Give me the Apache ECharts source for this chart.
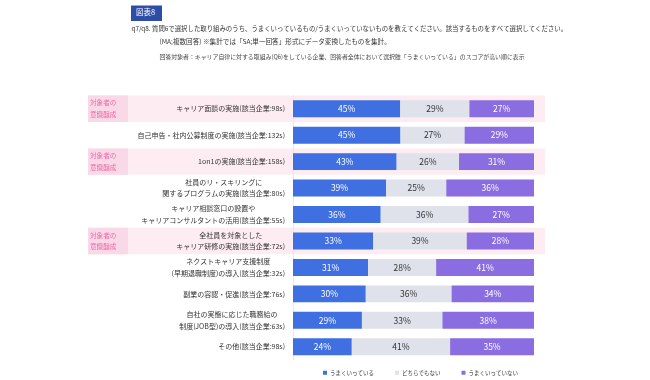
<!DOCTYPE html>
<html><head><meta charset="utf-8">
<script src="https://cdn.jsdelivr.net/npm/echarts@6/dist/echarts.min.js"></script>
<style>html,body{margin:0;padding:0;background:#fff}#c{width:650px;height:380px}</style>
</head><body><div id="c"></div>
<script>
const categories = [
  'キャリア面談の実施(該当企業:98s)',
  '自己申告・社内公募制度の実施(該当企業:132s)',
  '1on1の実施(該当企業:158s)',
  '社員のリ・スキリングに\n関するプログラムの実施(該当企業:80s)',
  'キャリア相談窓口の設置や\nキャリアコンサルタントの活用(該当企業:55s)',
  '全社員を対象とした\nキャリア研修の実施(該当企業:72s)',
  'ネクストキャリア支援制度\n(早期退職制度)の導入(該当企業:32s)',
  '副業の容認・促進(該当企業:76s)',
  '自社の実態に応じた職務給の\n制度(JOB型)の導入(該当企業:63s)',
  'その他(該当企業:98s)'
];
const seriesNames = ['うまくいっている', 'どちらでもない', 'うまくいっていない'];
const goodValues    = [44.5, 44.6, 43.0, 38.6, 36.4, 33.3, 31.2, 30.2, 28.6, 24.4];
const neutralValues = [28.7, 26.6, 25.9, 25.0, 36.4, 38.8, 28.2, 35.6, 33.4, 40.8];
const badValues     = [26.8, 28.8, 31.1, 36.4, 27.2, 27.9, 40.6, 34.2, 38.0, 34.8];
const flaggedRows = [0, 2, 5];
const flagText = '対象者の\n意識醸成';
const titleBadge = '図表8';
const titleLine1 = 'q7/q8. 質問6で選択した取り組みのうち、うまくいっているもの/うまくいっていないものを教えてください。該当するものをすべて選択してください。';
const titleLine2 = '(MA;複数回答) ※集計では「SA;単一回答」形式にデータ変換したものを集計。';
const titleLine3 = '回答対象者：キャリア自律に対する取組み(Q6)をしている企業、回答者全体において選択肢「うまくいっている」のスコアが高い順に表示';

const FONT = '"Noto Sans CJK JP", "Noto Sans", sans-serif';
const colors = ['#3f6fe0', '#dfe2ea', '#8a6de0'];
const labelColors = ['#ffffff', '#333333', '#ffffff'];
const chart = echarts.init(document.getElementById('c'), null, {renderer: 'canvas'});

function barSeries(idx, data) {
  return {
    name: seriesNames[idx], type: 'bar', stack: 'all', data: data,
    barWidth: '64%', z: 3,
    itemStyle: {color: colors[idx]},
    label: {show: true, position: 'inside', color: labelColors[idx], fontSize: 8.5, fontFamily: FONT,
      formatter: p => Math.round(p.value) + '%'}
  };
}

chart.setOption({
  animation: false,
  textStyle: {fontFamily: FONT},
  grid: {left: 293, right: 116, top: 95.5, bottom: 20, containLabel: false},
  xAxis: {type: 'value', min: 0, max: 100, show: false},
  yAxis: {
    type: 'category', data: categories, inverse: true,
    axisLine: {show: true, lineStyle: {color: '#e8e8e8'}},
    axisTick: {show: false},
    axisLabel: {
      margin: 8, fontSize: 7, color: '#333', fontFamily: FONT,
      formatter: v => v.split('\n').map(l => '{c|' + l + '}').join('\n'),
      rich: {c: {align: 'center', fontSize: 7, lineHeight: 11.5, color: '#333', fontFamily: FONT}}
    }
  },
  legend: {
    data: seriesNames, left: 318, top: 365, icon: 'rect', itemWidth: 4, itemHeight: 4, itemGap: 21,
    textStyle: {fontSize: 5.5, color: '#333', fontFamily: FONT, padding: [0, 0, 0, -2]}
  },
  series: [
    {
      type: 'custom', z: 0, clip: false, silent: true,
      data: flaggedRows.map(i => [0, i]),
      encode: {x: 0, y: 1},
      renderItem: function (params, api) {
        const y = api.coord([0, api.value(1)])[1];
        const h = api.size([0, 1])[1];
        return {type: 'group', children: [
          {type: 'rect', shape: {x: 88, y: y - h / 2, width: 457, height: h}, style: {fill: '#fdedf3'}},
          {type: 'rect', shape: {x: 88, y: y - h / 2, width: 40, height: h}, style: {fill: '#f9d8e7'}},
          {type: 'text', style: {x: 90, y: y, text: flagText, fill: '#ec6aa6', fontSize: 6.6, lineHeight: 11.5,
            fontFamily: FONT, align: 'left', verticalAlign: 'middle'}}
        ]};
      }
    },
    barSeries(0, goodValues),
    barSeries(1, neutralValues),
    barSeries(2, badValues)
  ],
  graphic: [
    {type: 'rect', left: 131, top: 5.5, shape: {width: 31, height: 15.5}, style: {fill: '#2e4ea6'}},
    {type: 'text', left: 136, top: 8.5, style: {text: titleBadge, fill: '#fff', fontSize: 7.5, fontFamily: FONT}},
    {type: 'text', left: 131.5, top: 25, style: {text: titleLine1, fill: '#333', fontSize: 6.4, fontFamily: FONT}},
    {type: 'text', left: 159.5, top: 38, style: {text: titleLine2, fill: '#333', fontSize: 6.6, fontFamily: FONT}},
    {type: 'text', left: 159.5, top: 53.5, style: {text: titleLine3, fill: '#444', fontSize: 5.9, fontFamily: FONT}}
  ]
});
</script></body></html>
